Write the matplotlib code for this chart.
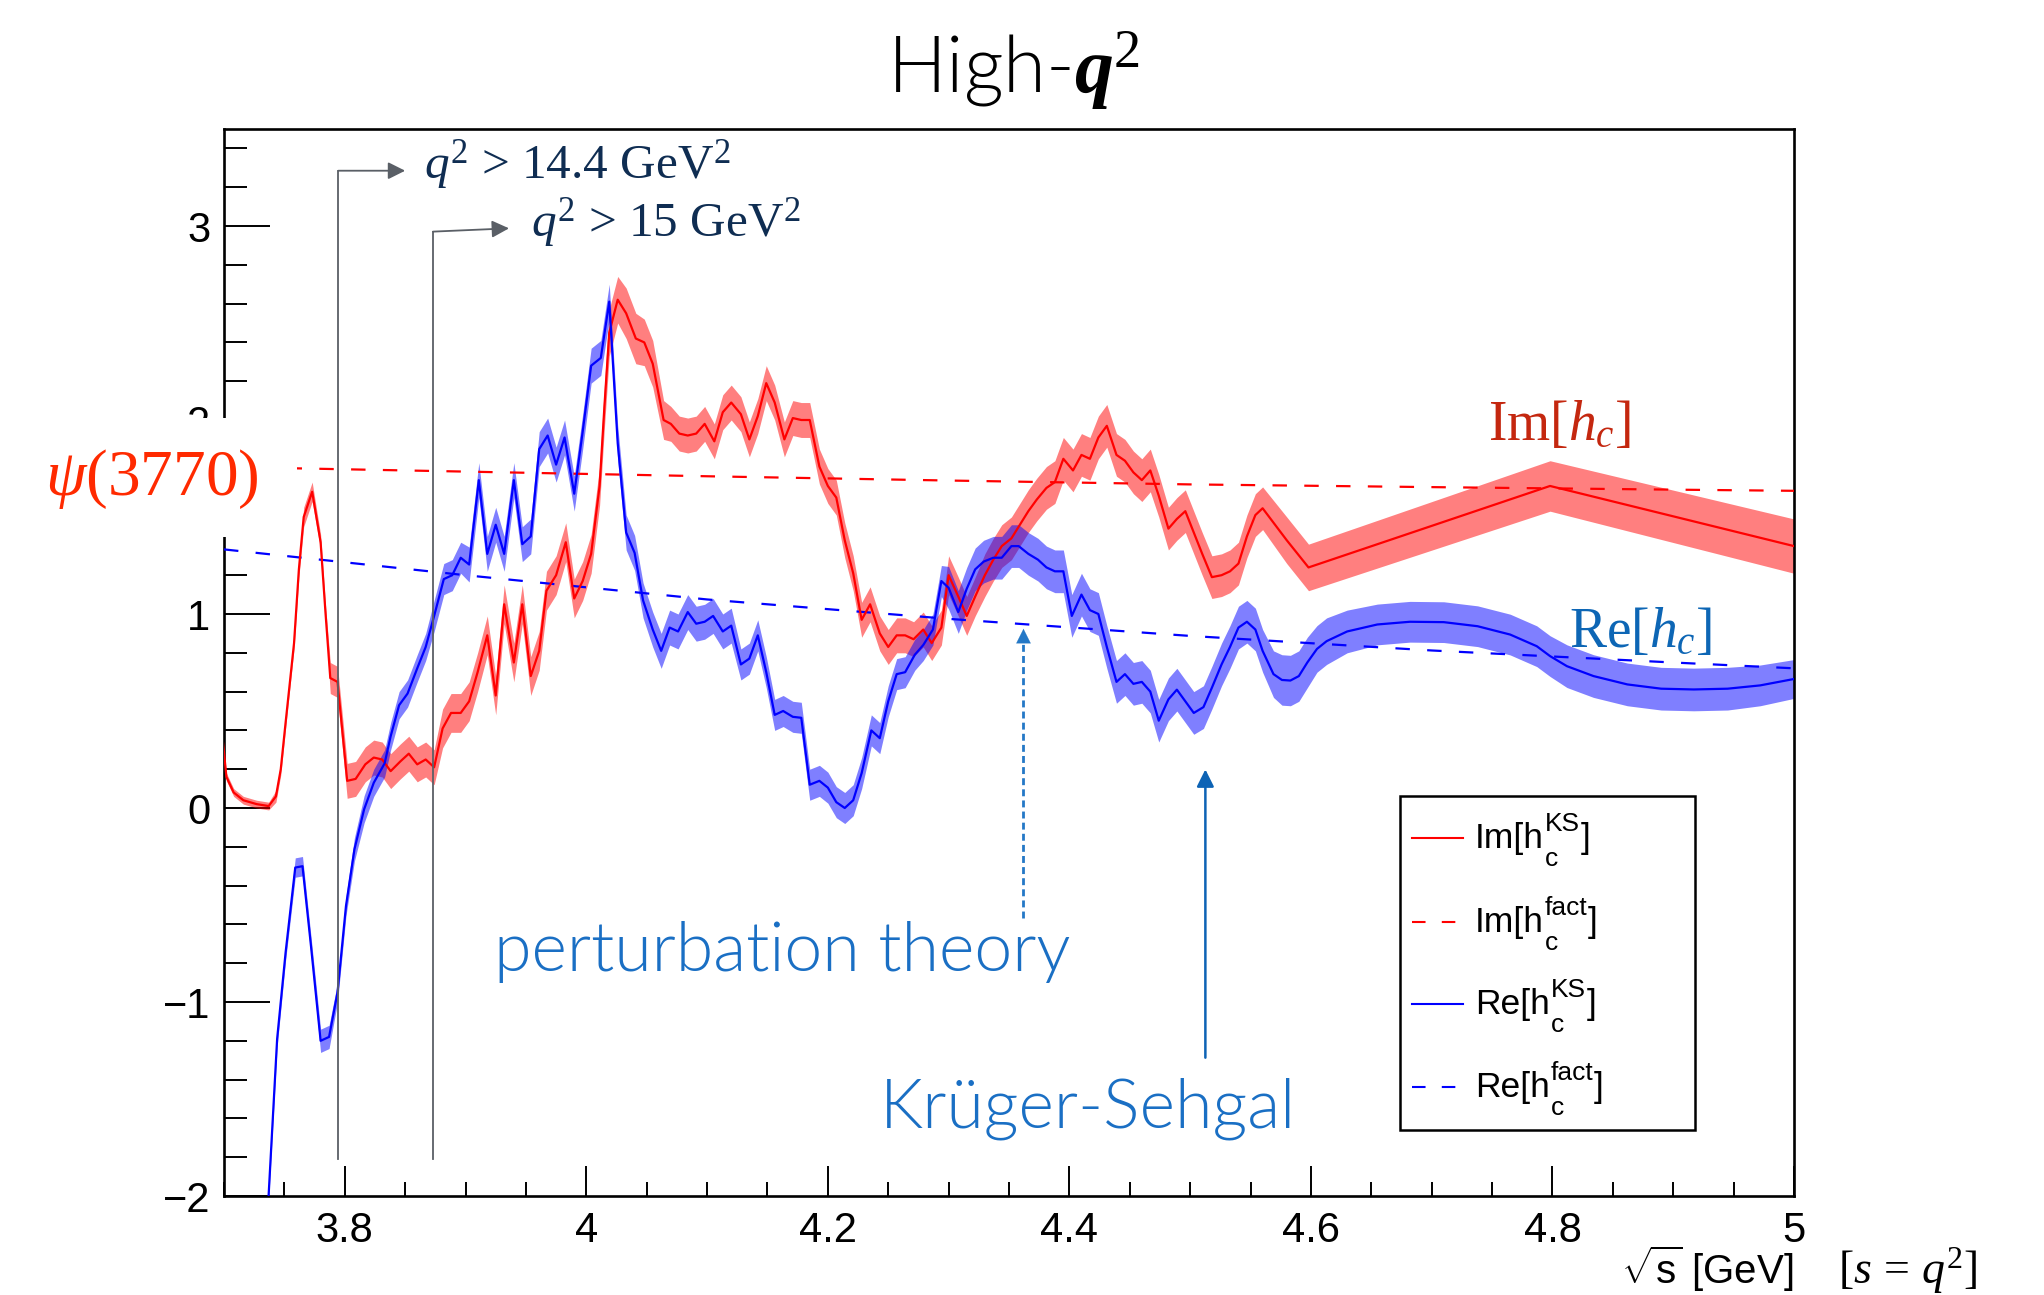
import os
import matplotlib
matplotlib.use('Agg')
import matplotlib.pyplot as plt
import numpy as np
from matplotlib.patches import Rectangle
from matplotlib.ticker import MultipleLocator, FuncFormatter
from matplotlib import font_manager as fm

plt.rcParams['mathtext.fontset'] = 'custom'
plt.rcParams['mathtext.rm'] = 'Liberation Serif'
plt.rcParams['mathtext.it'] = 'Liberation Serif:italic'
plt.rcParams['mathtext.bf'] = 'Liberation Serif:bold'
plt.rcParams['mathtext.bfit'] = 'Liberation Serif:italic:bold'
plt.rcParams['mathtext.sf'] = 'Liberation Sans'
plt.rcParams['font.family'] = ['Liberation Sans', 'DejaVu Sans']

# ---------------- data ----------------
# Im[h_c^KS] (Krueger-Sehgal)
im_x = [3.695, 3.702, 3.708, 3.716, 3.727, 3.737, 3.743, 3.747, 3.751, 3.758,
        3.762, 3.766, 3.773, 3.780, 3.784, 3.788, 3.794, 3.802, 3.809, 3.817,
        3.824, 3.831, 3.838, 3.846, 3.853, 3.860, 3.867, 3.874, 3.881, 3.888,
        3.896, 3.903, 3.910, 3.918, 3.925, 3.932, 3.940, 3.947, 3.954, 3.961,
        3.967, 3.975, 3.983, 3.990, 3.997, 4.004, 4.011, 4.015, 4.019, 4.026,
        4.033, 4.041, 4.048, 4.055, 4.064, 4.070, 4.077, 4.084, 4.091, 4.098,
        4.106, 4.113, 4.120, 4.128, 4.135, 4.142, 4.149, 4.156, 4.164, 4.171,
        4.178, 4.185, 4.193, 4.200, 4.207, 4.214, 4.221, 4.228, 4.235, 4.243,
        4.250, 4.257, 4.264, 4.271, 4.279, 4.286, 4.294, 4.300, 4.308, 4.315,
        4.322, 4.330, 4.337, 4.344, 4.352, 4.359, 4.366, 4.373, 4.381, 4.388,
        4.395, 4.403, 4.410, 4.417, 4.424, 4.431, 4.439, 4.446, 4.453, 4.460,
        4.467, 4.474, 4.482, 4.489, 4.496, 4.503, 4.510, 4.518, 4.526, 4.533,
        4.540, 4.547, 4.554, 4.560, 4.580, 4.598, 4.798, 5.000]
im_y = [0.60, 0.16, 0.08, 0.04, 0.02, 0.01, 0.06, 0.20, 0.44, 0.85,
        1.23, 1.50, 1.63, 1.37, 1.01, 0.67, 0.65, 0.14, 0.15, 0.225,
        0.26, 0.25, 0.19, 0.24, 0.28, 0.225, 0.25, 0.21, 0.41, 0.49,
        0.49, 0.55, 0.70, 0.89, 0.58, 1.05, 0.75, 1.05, 0.68, 0.81,
        1.12, 1.20, 1.37, 1.08, 1.17, 1.31, 1.66, 2.07, 2.45, 2.62,
        2.55, 2.42, 2.40, 2.29, 2.00, 1.98, 1.93, 1.92, 1.93, 1.98,
        1.89, 2.04, 2.09, 2.03, 1.90, 2.02, 2.19, 2.09, 1.90, 2.01,
        2.00, 2.00, 1.76, 1.66, 1.60, 1.38, 1.21, 0.97, 1.05, 0.90,
        0.83, 0.89, 0.89, 0.87, 0.92, 0.85, 0.93, 1.20, 1.09, 0.99,
        1.09, 1.20, 1.28, 1.35, 1.39, 1.46, 1.53, 1.59, 1.65, 1.68,
        1.80, 1.74, 1.82, 1.80, 1.91, 1.97, 1.82, 1.79, 1.73, 1.69,
        1.74, 1.61, 1.44, 1.49, 1.53, 1.42, 1.31, 1.19, 1.20, 1.22,
        1.26, 1.40, 1.51, 1.545, 1.38, 1.24, 1.66, 1.35]
im_err = [0.02, 0.02, 0.02, 0.02, 0.02, 0.02, 0.03, 0.03, 0.03, 0.03,
          0.04, 0.05, 0.05, 0.04, 0.04, 0.08, 0.08, 0.09, 0.09, 0.09,
          0.09, 0.09, 0.09, 0.09, 0.09, 0.09, 0.09, 0.09, 0.10, 0.10,
          0.10, 0.10, 0.10, 0.10, 0.10, 0.10, 0.10, 0.10, 0.10, 0.10,
          0.10, 0.10, 0.10, 0.10, 0.10, 0.10, 0.10, 0.11, 0.12, 0.12,
          0.13, 0.13, 0.12, 0.12, 0.10, 0.09, 0.09, 0.09, 0.09, 0.09,
          0.09, 0.09, 0.09, 0.09, 0.09, 0.09, 0.09, 0.09, 0.09, 0.09,
          0.09, 0.09, 0.09, 0.09, 0.09, 0.09, 0.09, 0.09, 0.09, 0.09,
          0.09, 0.09, 0.09, 0.09, 0.09, 0.09, 0.09, 0.10, 0.10, 0.10,
          0.10, 0.11, 0.11, 0.11, 0.11, 0.11, 0.11, 0.11, 0.11, 0.11,
          0.11, 0.11, 0.11, 0.11, 0.11, 0.11, 0.11, 0.11, 0.11, 0.11,
          0.11, 0.11, 0.11, 0.11, 0.11, 0.11, 0.11, 0.11, 0.11, 0.11,
          0.11, 0.11, 0.11, 0.11, 0.12, 0.12, 0.13, 0.14]

# Re[h_c^KS] (Krueger-Sehgal)
re_x = [3.725, 3.737, 3.744, 3.751, 3.759, 3.765, 3.772, 3.780, 3.787, 3.794,
        3.801, 3.808, 3.816, 3.824, 3.833, 3.838, 3.845, 3.852, 3.860, 3.867,
        3.874, 3.882, 3.889, 3.896, 3.903, 3.911, 3.918, 3.925, 3.932, 3.940,
        3.947, 3.954, 3.961, 3.968, 3.975, 3.982, 3.990, 3.997, 4.004, 4.012,
        4.019, 4.026, 4.033, 4.040, 4.047, 4.055, 4.062, 4.069, 4.076, 4.084,
        4.091, 4.098, 4.105, 4.113, 4.120, 4.128, 4.135, 4.142, 4.149, 4.156,
        4.163, 4.171, 4.178, 4.185, 4.193, 4.200, 4.207, 4.214, 4.221, 4.228,
        4.236, 4.243, 4.250, 4.257, 4.264, 4.272, 4.279, 4.287, 4.294, 4.300,
        4.308, 4.315, 4.322, 4.329, 4.337, 4.344, 4.352, 4.358, 4.366, 4.374,
        4.381, 4.388, 4.395, 4.402, 4.410, 4.417, 4.424, 4.431, 4.439, 4.446,
        4.453, 4.460, 4.467, 4.474, 4.482, 4.489, 4.496, 4.503, 4.511, 4.518,
        4.526, 4.533, 4.540, 4.547, 4.554, 4.560, 4.569, 4.576, 4.583, 4.590,
        4.597, 4.605, 4.613, 4.630, 4.655, 4.682, 4.710, 4.738, 4.765, 4.787,
        4.798, 4.812, 4.834, 4.862, 4.890, 4.917, 4.945, 4.972, 5.000]
re_y = [-3.20, -1.99, -1.19, -0.745, -0.307, -0.30, -0.71, -1.20, -1.18, -0.95,
        -0.505, -0.213, -0.007, 0.13, 0.23, 0.37, 0.53, 0.59, 0.72, 0.83,
        0.99, 1.18, 1.20, 1.29, 1.255, 1.69, 1.31, 1.46, 1.31, 1.69,
        1.36, 1.40, 1.85, 1.92, 1.77, 1.91, 1.62, 1.94, 2.28, 2.32,
        2.61, 1.88, 1.42, 1.315, 1.07, 0.92, 0.81, 0.93, 0.91, 1.01,
        0.95, 0.96, 0.99, 0.91, 0.94, 0.74, 0.77, 0.89, 0.70, 0.48,
        0.50, 0.47, 0.465, 0.12, 0.14, 0.105, 0.03, 0.00, 0.04, 0.18,
        0.40, 0.36, 0.55, 0.69, 0.70, 0.79, 0.84, 0.92, 1.17, 1.135,
        1.01, 1.13, 1.23, 1.27, 1.29, 1.29, 1.35, 1.35, 1.31, 1.28,
        1.24, 1.22, 1.22, 0.99, 1.10, 1.02, 1.00, 0.83, 0.65, 0.69,
        0.64, 0.65, 0.60, 0.45, 0.56, 0.61, 0.55, 0.49, 0.52, 0.62,
        0.74, 0.83, 0.93, 0.96, 0.92, 0.81, 0.69, 0.66, 0.657, 0.68,
        0.75, 0.82, 0.86, 0.91, 0.946, 0.96, 0.958, 0.937, 0.894, 0.834,
        0.783, 0.731, 0.68, 0.637, 0.615, 0.611, 0.615, 0.632, 0.665]
re_err = [0.03, 0.03, 0.04, 0.04, 0.05, 0.05, 0.05, 0.06, 0.06, 0.05,
          0.05, 0.06, 0.07, 0.07, 0.07, 0.07, 0.07, 0.07, 0.07, 0.07,
          0.08, 0.08, 0.08, 0.08, 0.09, 0.09, 0.09, 0.09, 0.09, 0.09,
          0.09, 0.09, 0.09, 0.09, 0.09, 0.09, 0.09, 0.09, 0.09, 0.09,
          0.09, 0.09, 0.09, 0.09, 0.09, 0.09, 0.09, 0.09, 0.09, 0.09,
          0.09, 0.09, 0.09, 0.09, 0.09, 0.08, 0.08, 0.08, 0.08, 0.08,
          0.08, 0.08, 0.08, 0.08, 0.08, 0.08, 0.08, 0.08, 0.08, 0.08,
          0.08, 0.08, 0.08, 0.08, 0.08, 0.08, 0.08, 0.08, 0.08, 0.11,
          0.11, 0.11, 0.11, 0.11, 0.11, 0.11, 0.11, 0.11, 0.11, 0.11,
          0.11, 0.11, 0.11, 0.11, 0.11, 0.11, 0.11, 0.11, 0.11, 0.11,
          0.11, 0.11, 0.11, 0.11, 0.11, 0.11, 0.11, 0.11, 0.11, 0.11,
          0.11, 0.11, 0.11, 0.11, 0.11, 0.11, 0.12, 0.13, 0.13, 0.13,
          0.13, 0.12, 0.12, 0.11, 0.105, 0.105, 0.105, 0.105, 0.105, 0.105,
          0.105, 0.11, 0.11, 0.11, 0.11, 0.11, 0.11, 0.105, 0.10]

# factorisation (perturbation theory)
fact_x = [3.70, 3.90, 4.10, 4.30, 4.50, 4.70, 4.90, 5.00]
im_fact_y = [1.758, 1.734, 1.710, 1.688, 1.668, 1.654, 1.641, 1.635]
re_fact_y = [1.333, 1.200, 1.075, 0.975, 0.887, 0.812, 0.750, 0.720]

# q^2 thresholds (sqrt(s) in GeV) and their label text
thr_x = [3.7947, 3.8730]
thr_top = [3.285, 2.971]
thr_arrow_end = [(3.850, 3.285), (3.936, 2.988)]
thr_labels = [r'$q^2$ > 14.4 GeV$^2$', r'$q^2$ > 15 GeV$^2$']

legend_main = ['Im[h', 'Im[h', 'Re[h', 'Re[h']
legend_sup = ['KS', 'fact', 'KS', 'fact']
legend_sub = ['c', 'c', 'c', 'c']

assert len(im_x) == len(im_y) == len(im_err)
assert len(re_x) == len(re_y) == len(re_err)

im_x = np.array(im_x); im_y = np.array(im_y); im_err = np.array(im_err)
re_x = np.array(re_x); re_y = np.array(re_y); re_err = np.array(re_err)


def font_file(cands):
    try:
        files = fm.findSystemFonts()
    except Exception:
        return None
    for c in cands:
        for f in files:
            if os.path.basename(f).lower() == c.lower():
                return f
    return None


lato_light = font_file(['Lato-Light.ttf', 'Lato-Light.otf'])


def light_fp(size):
    if lato_light:
        return fm.FontProperties(fname=lato_light, size=size)
    return fm.FontProperties(family='Lato', size=size)


# ---------------- figure ----------------
W, H = 2044, 1295
fig = plt.figure(figsize=(W / 100, H / 100), dpi=100)
ax = fig.add_axes([224 / W, 1 - 1196 / H, 1570 / W, 1067 / H])

DASH = (6.5, 7.8)
ax.fill_between(im_x, im_y - im_err, im_y + im_err, color='red', alpha=0.5, lw=0, zorder=2)
ax.fill_between(re_x, re_y - re_err, re_y + re_err, color='blue', alpha=0.5, lw=0, zorder=2)
ax.plot(fact_x, im_fact_y, color='red', lw=1.6, dashes=DASH, zorder=3)
ax.plot(fact_x, re_fact_y, color='blue', lw=1.6, dashes=DASH, zorder=3)
ax.plot(im_x, im_y, color='red', lw=1.6, zorder=4)
ax.plot(re_x, re_y, color='blue', lw=1.6, zorder=4)

ax.set_xlim(3.7, 5.0)
ax.set_ylim(-2, 3.5)
ax.xaxis.set_major_locator(MultipleLocator(0.2))
ax.xaxis.set_minor_locator(MultipleLocator(0.05))
ax.yaxis.set_major_locator(MultipleLocator(1))
ax.yaxis.set_minor_locator(MultipleLocator(0.2))
fmt = FuncFormatter(lambda v, p: ('%g' % round(v, 3)).replace('-', '\u2212'))
ax.xaxis.set_major_formatter(fmt)
ax.yaxis.set_major_formatter(fmt)
ax.tick_params(which='both', direction='in', top=False, right=False, width=1.4,
               labelsize=30)
ax.tick_params(axis='x', which='major', length=21.6, pad=10.5)
ax.tick_params(axis='x', which='minor', length=10.3)
ax.tick_params(axis='y', which='major', length=33, pad=10)
ax.tick_params(axis='y', which='minor', length=16.5)
for s in ax.spines.values():
    s.set_linewidth(1.9)

# threshold lines + arrows
GRAY = '#5a5f66'
for xv, yt, end in zip(thr_x, thr_top, thr_arrow_end):
    ax.plot([xv, xv], [-1.81, yt], color=GRAY, lw=1.3, zorder=6)
    ax.annotate('', xy=end, xytext=(xv, yt),
                arrowprops=dict(arrowstyle='-|>', color=GRAY, lw=1.3,
                                mutation_scale=26, shrinkA=0, shrinkB=0), zorder=6)
fig.text(424 / W, 1 - 178 / H, thr_labels[0], fontfamily='Liberation Serif',
         fontsize=35.5, color='#0f2d52')
fig.text(531 / W, 1 - 236.7 / H, thr_labels[1], fontfamily='Liberation Serif',
         fontsize=35.5, color='#0f2d52')

# pointer arrows
PT = '#2478c6'
ax.plot([4.362, 4.362], [-0.568, 0.88], color=PT, lw=2.0, ls=(0, (2.5, 1.5)), zorder=6)
ax.annotate('', xy=(4.362, 0.924), xytext=(4.362, 0.86),
            arrowprops=dict(arrowstyle='-|>', color=PT, lw=0.1, mutation_scale=26,
                            shrinkA=0, shrinkB=0), zorder=6)
KS = '#0d63b5'
ax.annotate('', xy=(4.5126, 0.199), xytext=(4.5126, -1.287),
            arrowprops=dict(arrowstyle='-|>', color=KS, lw=1.8, mutation_scale=26,
                            shrinkA=0, shrinkB=0), zorder=6)
fig.text(493.7 / W, 1 - 970.7 / H, 'perturbation theory', fontproperties=light_fp(49),
         color='#1a6fc4')
fig.text(880 / W, 1 - 1128 / H, 'Krüger-Sehgal', fontproperties=light_fp(49),
         color='#1a6fc4')

# curve labels
fig.text(1487.7 / W, 1 - 440 / H, r'Im[$h_c$]', fontfamily='Liberation Serif',
         fontsize=40, color='#c4270f')
fig.text(1569.3 / W, 1 - 646.7 / H, r'Re[$h_c$]', fontfamily='Liberation Serif',
         fontsize=40, color='#0d66b5')

# white patch with psi(3770)
fig.add_artist(Rectangle((0, 1 - 537 / H), 297 / W, 119 / H, transform=fig.transFigure,
                         facecolor='white', edgecolor='none', zorder=5))
fig.text(44.6 / W, 1 - 495 / H, r'$\psi$(3770)', fontfamily='Liberation Serif',
         fontsize=47, color='#ff2a00', zorder=6)

# legend (ROOT style)
def ax_x(X):
    return (X - 224) / 1570.0
def ax_y(Y):
    return (1196 - Y) / 1067.0

ax.add_patch(Rectangle((ax_x(1400), ax_y(1130)), ax_x(1695) - ax_x(1400),
                       ax_y(795.7) - ax_y(1130), transform=ax.transAxes,
                       facecolor='white', edgecolor='black', lw=1.8, zorder=10,
                       clip_on=False))
leg_colors = ['red', 'red', 'blue', 'blue']
leg_dashed = [False, True, False, True]
leg_Y = [838, 921.7, 1004, 1087]
renderer = fig.canvas.get_renderer()
for mn, sp, sb, c, d, Y in zip(legend_main, legend_sup, legend_sub, leg_colors,
                               leg_dashed, leg_Y):
    kw = dict(dashes=DASH) if d else {}
    ax.plot([ax_x(1412), ax_x(1463)], [ax_y(Y), ax_y(Y)], color=c, lw=1.5,
            transform=ax.transAxes, clip_on=False, zorder=11, **kw)
    base = H - (Y + 10)
    t = fig.text(1475 / W, base / H, mn, fontsize=25.5, va='baseline', zorder=12)
    x1 = t.get_window_extent(renderer).x1
    ts = fig.text((x1 + 1) / W, (base + 17) / H, sp, fontsize=19, va='baseline', zorder=12)
    tb = fig.text((x1 + 1) / W, (base - 18) / H, sb, fontsize=19, va='baseline', zorder=12)
    x2 = max(ts.get_window_extent(renderer).x1, tb.get_window_extent(renderer).x1)
    fig.text((x2 + 0.5) / W, base / H, ']', fontsize=25.5, va='baseline', zorder=12)

# title and axis label
fig.text(0.496, 1 - 93 / H, r'High-$\mathbfit{q}^{2}$', fontproperties=light_fp(56),
         ha='center', va='baseline', color='black')
fig.text(1793 / W, 1 - 1284 / H, r'$\sqrt{\mathsf{s}}$ [GeV]', fontsize=29,
         ha='right', va='baseline')
fig.text(1838 / W, 1 - 1284 / H, r'$[s\,=\,q^2]$', fontsize=33, ha='left',
         va='baseline')

fig.savefig('out.png', dpi=100, facecolor='white')
